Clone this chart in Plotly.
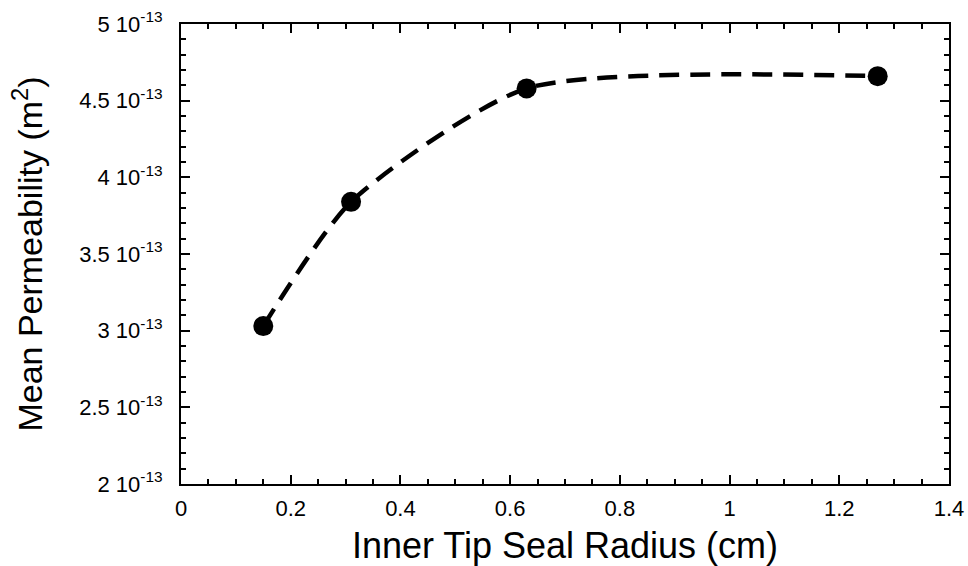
import plotly.graph_objects as go

radius_cm = [0.15, 0.31, 0.63, 1.27]
permeability = [3.03e-13, 3.84e-13, 4.58e-13, 4.66e-13]

y_tick_vals = [2e-13, 2.5e-13, 3e-13, 3.5e-13, 4e-13, 4.5e-13, 5e-13]
y_tick_text = ["2 10<sup>-13</sup>", "2.5 10<sup>-13</sup>", "3 10<sup>-13</sup>",
               "3.5 10<sup>-13</sup>", "4 10<sup>-13</sup>", "4.5 10<sup>-13</sup>",
               "5 10<sup>-13</sup>"]
x_tick_vals = [0, 0.2, 0.4, 0.6, 0.8, 1.0, 1.2, 1.4]
x_tick_text = ["0", "0.2", "0.4", "0.6", "0.8", "1", "1.2", "1.4"]

fig = go.Figure()
fig.add_trace(go.Scatter(
    x=radius_cm, y=permeability, mode="lines",
    line=dict(color="black", width=4.5, dash="20px,11px", shape="spline", smoothing=0.65),
    showlegend=False, hoverinfo="skip"))
fig.add_trace(go.Scatter(
    x=radius_cm, y=permeability, mode="markers",
    marker=dict(color="black", size=20),
    showlegend=False))

font = "Liberation Sans, Arial, Helvetica, sans-serif"
axis_common = dict(
    showgrid=False, zeroline=False, showline=True, linecolor="black", linewidth=2,
    mirror="allticks", ticks="inside", ticklen=9, tickwidth=2, tickcolor="black",
    tickfont=dict(family=font, size=22, color="black"), automargin=False,
)
fig.update_xaxes(
    range=[0, 1.4], tickvals=x_tick_vals, ticktext=x_tick_text,
    ticklabelstandoff=4,
    minor=dict(ticks="inside", ticklen=5, tickwidth=2, tickcolor="black", dtick=0.05, tick0=0),
    title=dict(text="Inner Tip Seal Radius (cm)", font=dict(family=font, size=36, color="black"), standoff=14),
    **axis_common)
fig.update_yaxes(
    range=[2e-13, 5e-13], tickvals=y_tick_vals, ticktext=y_tick_text,
    ticklabelstandoff=12,
    minor=dict(ticks="inside", ticklen=5, tickwidth=2, tickcolor="black", dtick=1e-14, tick0=0),
    title=dict(text="Mean Permeability (m<sup>2</sup>)", font=dict(family=font, size=34, color="black"), standoff=26),
    **axis_common)
fig.update_layout(
    width=968, height=566, margin=dict(l=181, r=19, t=24, b=82),
    plot_bgcolor="white", paper_bgcolor="white",
)
fig.write_html("out.html")
